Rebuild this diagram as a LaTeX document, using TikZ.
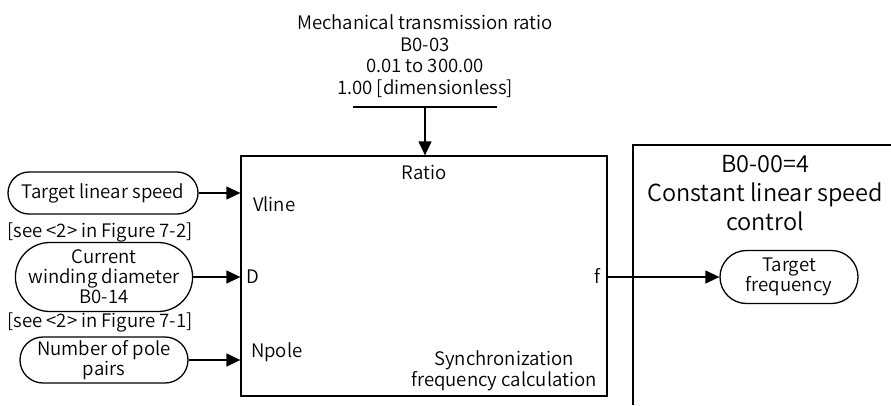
\documentclass[tikz,border=0pt]{standalone}
\usepackage{fontspec}
\setmainfont{Noto Sans CJK SC DemiLight}
\usetikzlibrary{positioning,shapes.misc,arrows.meta}

\begin{document}
\begin{tikzpicture}[x=1pt,y=-1pt,
    txt/.style={font=\fontsize{18.6}{21.5}\selectfont, inner sep=0pt, align=center},
    pill/.style={txt, font=\fontsize{18.6}{20}\selectfont, draw, line width=1.3pt, rounded rectangle, rounded rectangle arc length=180},
    blk/.style={draw, line width=1.3pt, inner sep=0pt},
    flow/.style={line width=1.3pt, -{Triangle[length=14pt,width=13pt]}}]
                    \useasboundingbox (0,0) rectangle (891,405);
                    % parameter on top
                    \node [txt] (par) at (425,56) {Mechanical transmission ratio\\B0-03\\0.01 to 300.00\\1.00 [dimensionless]};
                    \coordinate (barL) at (353,107);
                    \coordinate (barR) at (497,107);
                    \coordinate (barM) at (425,107);
                    \draw [line width=1.3pt] (barL) -- (barR);
                    % calculation block
                    \node [blk, minimum width=366pt, minimum height=240pt] (calc) at (424,276) {};
                    \node [txt] (ratio) at (424,172) {Ratio};
                    \node [txt, anchor=west] (vline) at (253,204) {Vline};
                    \node [txt, anchor=west] (dia) at (246,277) {D};
                    \node [txt, anchor=west] (npole) at (251,352) {Npole};
                    \node [txt, anchor=east] (fout) at (601,276) {f};
                    \node [txt] (sync) at (504,371) {Synchronization\\frequency calculation};
                    \draw [flow] (barM) -- (calc.north -| barM);
                    % inputs
                    \node [pill, minimum width=190pt, minimum height=42pt] (speed) at (103,193) {Target linear speed};
                    \node [txt] (ref1) at (100,232) {[see <2> in Figure 7-2]};
                    \node [pill, minimum width=168pt, minimum height=69pt] (wind) at (104,277) {Current\\winding diameter\\B0-14};
                    \node [txt] (ref2) at (100,322) {[see <2> in Figure 7-1]};
                    \node [pill, minimum width=168pt, minimum height=46pt] (poles) at (104,360) {Number of pole\\pairs};
                    \draw [flow] (speed.east) -- (speed.east -| calc.west);
                    \draw [flow] (wind.east) -- (wind.east -| calc.west);
                    \draw [flow] (poles.east) -- (poles.east -| calc.west);
                    % control mode frame
                    \coordinate (frmB) at (633,405);
                    \coordinate (frmT) at (633,145);
                    \coordinate (frmR) at (891,145);
                    \draw [line width=1.3pt] (frmB) -- (frmT) -- (frmR);
                    \node [txt, font=\fontsize{23.5}{29}\selectfont] (mode) at (765,193) {B0-00=4\\Constant linear speed\\control};
                    \node [pill, minimum width=138pt, minimum height=53pt] (freq) at (789,277) {Target\\frequency};
                    \draw [flow] (calc.east |- freq) -- (freq.west);
                \end{tikzpicture}
\end{document}
